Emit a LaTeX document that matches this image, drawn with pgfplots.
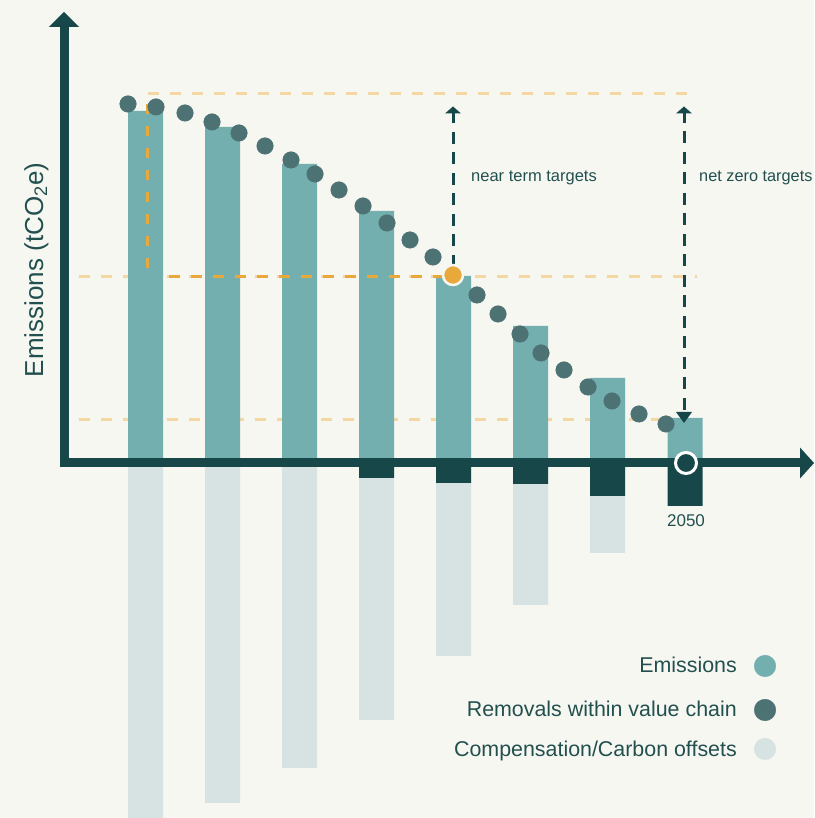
\documentclass[border=0pt]{standalone}
\usepackage{pgfplots}
\pgfplotsset{compat=1.18}
\usepackage{fontspec}
\setmainfont{Liberation Sans}
\definecolor{bg}{HTML}{F7F7F2}
\definecolor{axc}{HTML}{18474A}
\definecolor{emis}{HTML}{74AFB0}
\definecolor{dotc}{HTML}{4D7274}
\definecolor{comp}{HTML}{D7E3E3}
\definecolor{orng}{HTML}{E8A93A}
\definecolor{lorng}{HTML}{F5D7A4}
\definecolor{txt}{HTML}{22504F}
\begin{document}
\begin{tikzpicture}
\fill[bg] (0,0) rectangle (814pt,818pt);
\begin{axis}[
  scale only axis, width=814pt, height=818pt,
  xmin=0, xmax=814, ymin=-355, ymax=463,
  axis lines=none, clip=true,
]
% light dashed reference lines (behind bars)
\draw[lorng, line width=3pt, dash pattern=on 11pt off 11pt] (axis cs:148,369) -- (axis cs:697,369);
\draw[lorng, line width=3pt, dash pattern=on 11pt off 11pt] (axis cs:79,186) -- (axis cs:697,186);
\draw[lorng, line width=3pt, dash pattern=on 11pt off 11pt] (axis cs:79,43) -- (axis cs:697,43);
% compensation
\addplot[ybar, bar width=35, bar shift=0pt, fill=comp, draw=none] coordinates {
(145.5,-370) (222.5,-340) (299.5,-305) (376.5,-257) (453.5,-193) (530.5,-142) (607.5,-90)};
% removals
\addplot[ybar, bar width=35, bar shift=0pt, fill=axc, draw=none] coordinates {
(376.5,-15) (453.5,-20) (530.5,-21) (607.5,-33) (685,-43)};
% emissions
\addplot[ybar, bar width=35, bar shift=0pt, fill=emis, draw=none] coordinates {
(145.5,352) (222.5,336) (299.5,299) (376.5,252) (453.5,187) (530.5,137) (607.5,85) (685,45)};
% dark orange dashed
\draw[orng, line width=3pt, dash pattern=on 10pt off 12pt] (axis cs:147,359) -- (axis cs:147,186);
\draw[orng, line width=3pt, dash pattern=on 11pt off 11pt, dash phase=11pt] (axis cs:158,186) -- (axis cs:442,186);
% axes
\draw[axc, line width=9pt] (axis cs:64,-4.5) -- (axis cs:64,437);
\fill[axc] (axis cs:49,436) -- (axis cs:79,436) -- (axis cs:64,451) -- cycle;
\draw[axc, line width=9pt] (axis cs:59.5,0) -- (axis cs:801,0);
\fill[axc] (axis cs:800,15.5) -- (axis cs:800,-15.5) -- (axis cs:814,0) -- cycle;
% dashed target arrows
\draw[axc, line width=3pt, dash pattern=on 12pt off 8.5pt] (axis cs:453,196) -- (axis cs:453,352);
\fill[axc] (axis cs:445,349.5) -- (axis cs:461,349.5) -- (axis cs:453,356.5) -- cycle;
\draw[axc, line width=3pt, dash pattern=on 12pt off 8.5pt] (axis cs:684,352) -- (axis cs:684,46);
\fill[axc] (axis cs:676,349.5) -- (axis cs:692,349.5) -- (axis cs:684,356.5) -- cycle;
\fill[axc] (axis cs:676,51) -- (axis cs:692,51) -- (axis cs:684,40) -- cycle;
% dots
\addplot[only marks, mark=*, color=dotc, mark size=8.3pt, mark options={fill=dotc}] coordinates {
(128,359) (156,356) (185,350) (212,341) (239,330) (265,317) (291,303) (315,289) (339,273) (363,257) (387,240) (410,223) (433,206)
(477,168) (498,149) (520,129) (541,110) (564,93) (588,76) (612,62) (639,49) (666,39)};
\addplot[only marks, mark=*, color=orng, mark size=10pt, mark options={fill=orng, draw=bg, line width=2.5pt}] coordinates {(453,188)};
\addplot[only marks, mark=*, color=axc, mark size=10.5pt, mark options={fill=axc, draw=white, line width=3pt}] coordinates {(686,0)};
% legend circles
\addplot[only marks, mark=*, color=emis, mark size=10.8pt, mark options={fill=emis}] coordinates {(765,-203)};
\addplot[only marks, mark=*, color=dotc, mark size=10.8pt, mark options={fill=dotc}] coordinates {(765,-247)};
\addplot[only marks, mark=*, color=comp, mark size=10.8pt, mark options={fill=comp}] coordinates {(765,-286)};
% texts
\node[txt, anchor=base west, inner sep=0pt, font=\fontsize{16.5}{20}\selectfont] at (axis cs:471,281) {near term targets};
\node[txt, anchor=base west, inner sep=0pt, font=\fontsize{16.3}{20}\selectfont] at (axis cs:699,281) {net zero targets};
\node[txt, anchor=base, inner sep=0pt, font=\fontsize{17}{20}\selectfont] at (axis cs:686,-64) {2050};
\node[txt, anchor=base east, inner sep=0pt, font=\fontsize{21.4}{24}\selectfont] at (axis cs:737,-210) {Emissions};
\node[txt, anchor=base east, inner sep=0pt, font=\fontsize{21.4}{24}\selectfont] at (axis cs:737,-254) {Removals within value chain};
\node[txt, anchor=base east, inner sep=0pt, font=\fontsize{21.4}{24}\selectfont] at (axis cs:737,-294) {Compensation/Carbon offsets};
\node[txt, anchor=base, rotate=90, inner sep=0pt, font=\fontsize{26}{30}\selectfont] at (axis cs:43,193) {Emissions (tCO\textsubscript{2}e)};
\end{axis}
\pgfresetboundingbox
\useasboundingbox (0,0) rectangle (814pt,818pt);
\end{tikzpicture}
\end{document}
